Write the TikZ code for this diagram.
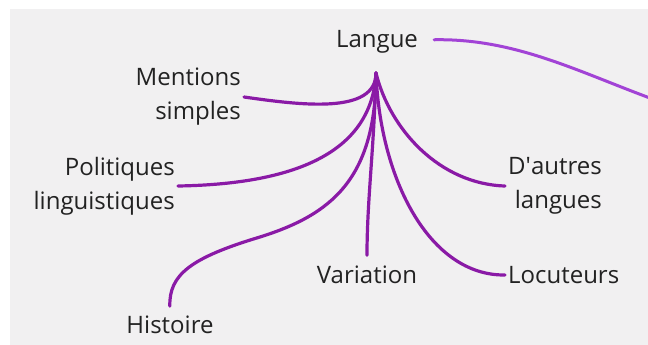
\documentclass[tikz,border=0pt]{standalone}
\usepackage{fontspec}
\setmainfont{Open Sans}
\usetikzlibrary{positioning, calc}

\definecolor{bgGrey}{HTML}{F1F0F1}
\definecolor{branchPurple}{HTML}{8A1AA6}
\definecolor{linkViolet}{HTML}{A243D6}
\definecolor{labelInk}{HTML}{222222}

\begin{document}
\begin{tikzpicture}[x=1pt, y=-1pt,
    topic/.style={text=labelInk, inner sep=3pt, font=\fontsize{24}{34}\selectfont},
    branch/.style={draw=branchPurple, line width=3.2pt, line cap=round}]

    % Define variables/coordinates
    \def\W{648}
    \def\H{345}

    % Page and grey board
    \useasboundingbox (0,0) rectangle (\W,\H);
    \fill[white] (0,0) rectangle (\W,\H);
    \fill[bgGrey] (10,9) rectangle (\W,\H);

    % Central topic and the point where the branches meet
    \node[topic, anchor=base] (langue) at (377,48) {Langue};
    \coordinate (hub) at (376,73);

    % Leaves
    \node[topic, anchor=east, align=right] (mentions) at (244,97) {Mentions\\simples};
    \node[topic, anchor=east, align=right] (politiques) at (178,186) {Politiques\\linguistiques};
    \node[topic, anchor=base] (histoire) at (170,333) {Histoire};
    \node[topic, anchor=base] (variation) at (367,283) {Variation};
    \node[topic, anchor=west] (locuteurs) at (505,275) {Locuteurs};
    \node[topic, anchor=west, align=right] (dautres) at (505,186) {D\textquotesingle autres\\langues};

    % Branches from the hub
    \draw[branch] (hub) .. controls (376,115) and (300,105) .. (mentions.east);
    \draw[branch] (hub) .. controls (372,150) and (300,184) .. (politiques.east);
    \draw[branch, shorten >=6pt] (hub) .. controls (376,180) and (330,215) .. (260,237)
        .. controls (190,258) and (169,275) .. (histoire.north);
    \draw[branch, shorten >=7pt] (hub) .. controls (374,150) and (367,200) .. (variation.north);
    \draw[branch] (hub) .. controls (380,180) and (430,276) .. (locuteurs.west);
    \draw[branch] (hub) .. controls (390,130) and (440,184) .. (dautres.west);

    % Link leaving the board on the right
    \coordinate (offboard) at (700,115);
    \begin{scope}
        \clip (10,9) rectangle (\W,\H);
        \draw[branch, draw=linkViolet, line width=3pt, shorten <=13pt]
            (langue.east |- 0,40) .. controls (530,38) and (600,85) .. (offboard);
    \end{scope}

\end{tikzpicture}
\end{document}
